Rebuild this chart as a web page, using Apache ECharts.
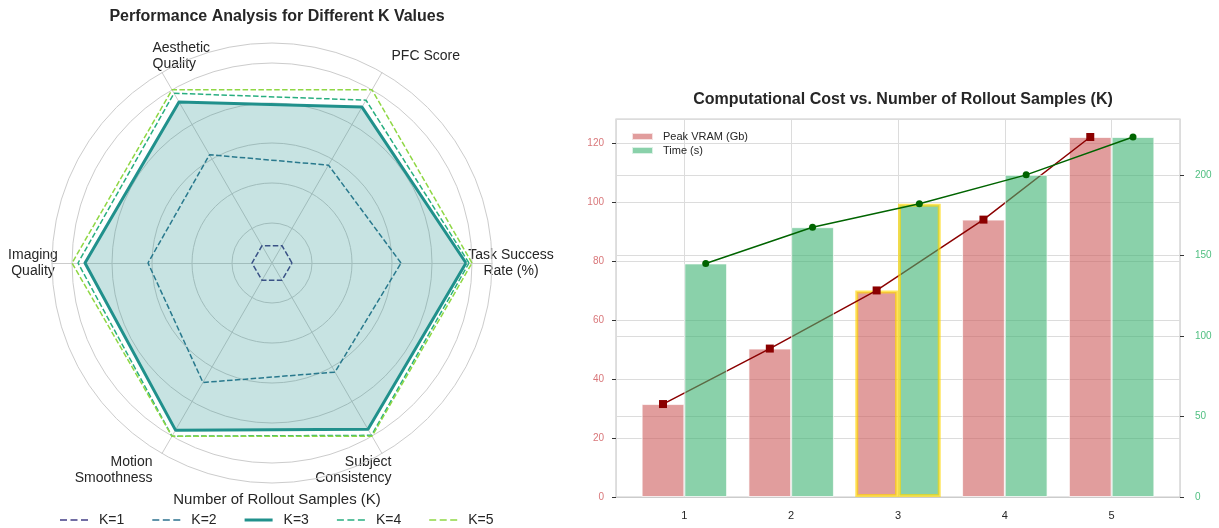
<!DOCTYPE html>
<html>
<head>
<meta charset="utf-8">
<script src="https://cdn.jsdelivr.net/npm/echarts@6/dist/echarts.min.js"></script>
<style>
html,body{margin:0;padding:0;background:#fff;}
#chart{width:1219px;height:528px;}
</style>
</head>
<body>
<div id="chart"></div>
<script>
// ---------- data ----------
const radarAxes = ['Task Success\nRate (%)', 'PFC Score', 'Aesthetic\nQuality', 'Imaging\nQuality', 'Motion\nSmoothness', 'Subject\nConsistency'];
const kNames = ['K=1', 'K=2', 'K=3', 'K=4', 'K=5'];
const radarK1 = [0.10, 0.10, 0.10, 0.10, 0.10, 0.10];
const radarK2 = [0.645, 0.565, 0.625, 0.62, 0.69, 0.63];
const radarK3 = [0.97, 0.90, 0.93, 0.935, 0.965, 0.96];
const radarK4 = [0.985, 0.94, 0.98, 0.97, 1.0, 0.995];
const radarK5 = [1.0, 1.0, 1.0, 1.0, 1.0, 1.0];

const kValues = [1, 2, 3, 4, 5];
const peakVram = [31.5, 50.3, 70.0, 94.0, 122.0];
const timeSec = [145, 167.5, 182, 200, 223.5];
const highlightK = 3;
const barNames = ['Peak VRAM (Gb)', 'Time (s)'];

// ---------- styling ----------
const FONT = '"Liberation Sans", Arial, Helvetica, sans-serif';
const TXT = '#262626';
const kColors = ['#433e85', '#2c728e', '#21918c', '#28ae80', '#8fd744'];
const radarCx = 272, radarCy = 263, radarR = 220, gridR = 200, labelR = 239;

const chart = echarts.init(document.getElementById('chart'), null, {renderer: 'canvas'});

const radarSeriesData = [radarK1, radarK2, radarK3, radarK4, radarK5];
const radarSeries = radarSeriesData.map((vals, i) => {
  const solid = i === 2;
  const s = {
    type: 'radar',
    radarIndex: 0,
    name: kNames[i],
    symbol: 'none',
    z: 3 + i,
    lineStyle: {color: kColors[i], width: solid ? 3 : 1.5, type: solid ? 'solid' : [5.5, 2.4]},
    itemStyle: {color: kColors[i]},
    data: [{value: vals, name: kNames[i]}]
  };
  if (solid) s.areaStyle = {color: kColors[i], opacity: 0.25};
  return s;
});

const dashIcon = 'path://M0,0M28,3M0,0.75h7v1.5h-7zM10.5,0.75h7v1.5h-7zM21,0.75h7v1.5h-7z';
const solidIcon = 'path://M0,0h28v3h-28z';

// axis labels around radar
const radarLabels = radarAxes.map((name, i) => {
  const a = i * Math.PI / 3;
  let align = 'center';
  if (i === 1 || i === 2) align = 'left';
  if (i === 4 || i === 5) align = 'right';
  return {
    type: 'text',
    x: radarCx + labelR * Math.cos(a),
    y: radarCy - labelR * Math.sin(a),
    style: {text: name, fontSize: 14, fontFamily: FONT, fill: TXT, align: align, verticalAlign: 'middle', lineHeight: 16}
  };
});

// right chart: x-range like matplotlib (bars width 0.4, 5% margins)
const barW = 0.4;
const xLo = kValues[0] - barW, xHi = kValues[kValues.length - 1] + barW;
const xPad = (xHi - xLo) * 0.05;

function barItem(k, v) {
  const it = {value: [k, v]};
  if (k === highlightK) it.itemStyle = {borderColor: 'rgba(255,215,0,0.65)', borderWidth: 3};
  return it;
}

const option = {
  animation: false,
  backgroundColor: '#ffffff',
  textStyle: {fontFamily: FONT, color: TXT},
  title: [
    {text: 'Performance Analysis for Different K Values', left: radarCx, top: 4, textAlign: 'center',
     textStyle: {fontSize: 16, fontWeight: 'bold', color: TXT, fontFamily: FONT}},
    {text: 'Computational Cost vs. Number of Rollout Samples (K)', left: 898, top: 87, textAlign: 'center',
     textStyle: {fontSize: 16, fontWeight: 'bold', color: TXT, fontFamily: FONT}},
    {text: 'Number of Rollout Samples (K)', left: radarCx, top: 487, textAlign: 'center',
     textStyle: {fontSize: 15, fontWeight: 'normal', color: TXT, fontFamily: FONT}}
  ],
  legend: [
    {
      data: kNames.map((n, i) => ({name: n, icon: i === 2 ? solidIcon : dashIcon, itemStyle: {color: kColors[i]}})),
      left: 55, top: 508, itemWidth: 28, itemHeight: 3, itemGap: 28,
      textStyle: {fontSize: 14, color: TXT, fontFamily: FONT, padding: [0, 0, 0, 6]},
      selectedMode: false
    },
    {
      data: barNames.map(n => ({name: n, icon: 'rect'})),
      orient: 'vertical', left: 626, top: 126, itemWidth: 21, itemHeight: 7, itemGap: 3,
      textStyle: {fontSize: 11, color: TXT, fontFamily: FONT, padding: [0, 0, 0, 5]},
      selectedMode: false
    }
  ],
  radar: [
    {
      center: [radarCx, radarCy], radius: radarR, startAngle: 0, shape: 'circle', splitNumber: 1,
      indicator: radarAxes.map(n => ({name: n, min: 0, max: 1.1})),
      axisName: {show: false},
      axisLine: {lineStyle: {color: '#cccccc', width: 1}},
      splitLine: {lineStyle: {color: '#cccccc', width: 1}},
      splitArea: {show: false}
    },
    {
      center: [radarCx, radarCy], radius: gridR, startAngle: 0, shape: 'circle', splitNumber: 5,
      indicator: radarAxes.map(n => ({name: n, min: 0, max: 1})),
      axisName: {show: false},
      axisLine: {show: false},
      splitLine: {lineStyle: {color: '#cccccc', width: 1}},
      splitArea: {show: false}
    }
  ],
  grid: [{left: 616, top: 119, width: 564, height: 378, show: true, borderColor: '#cccccc', borderWidth: 1.2, containLabel: false}],
  xAxis: [{
    type: 'value', gridIndex: 0, min: xLo - xPad, max: xHi + xPad, splitNumber: 5,
    axisLine: {show: true, lineStyle: {color: '#cccccc', width: 1.2}},
    axisTick: {show: false},
    axisLabel: {fontSize: 11, color: TXT, margin: 13, showMinLabel: false, showMaxLabel: false,
      formatter: v => (Number.isInteger(v) ? String(v) : '')},
    splitLine: {show: true, lineStyle: {color: '#dcdcdc', width: 1}}
  }],
  yAxis: [
    {
      type: 'value', gridIndex: 0, min: 0, max: v => v.max * 1.05, interval: 20, position: 'left',
      axisLine: {show: false},
      axisTick: {show: true, length: 4, lineStyle: {color: '#333333', width: 1}},
      axisLabel: {fontSize: 10, color: '#d9777a', margin: 12, showMaxLabel: false},
      splitLine: {show: true, lineStyle: {color: '#dcdcdc', width: 1}}
    },
    {
      type: 'value', gridIndex: 0, min: 0, max: v => v.max * 1.05, interval: 50, position: 'right',
      axisLine: {show: false},
      axisTick: {show: true, length: 4, lineStyle: {color: '#333333', width: 1}},
      axisLabel: {fontSize: 10, color: '#4fbf80', margin: 15, showMaxLabel: false},
      splitLine: {show: true, lineStyle: {color: '#dcdcdc', width: 1}}
    }
  ],
  graphic: radarLabels,
  series: radarSeries.concat([
    {
      type: 'bar', name: barNames[0], xAxisIndex: 0, yAxisIndex: 0, barWidth: '40%', barGap: '0%', z: 2,
      itemStyle: {color: 'rgba(205,92,92,0.6)', borderColor: 'rgba(255,255,255,0.7)', borderWidth: 1},
      data: kValues.map((k, i) => barItem(k, peakVram[i]))
    },
    {
      type: 'line', name: 'vram-line', xAxisIndex: 0, yAxisIndex: 0, z: 3,
      symbol: 'rect', symbolSize: 8, showSymbol: true,
      lineStyle: {color: '#8b0000', width: 1.5}, itemStyle: {color: '#8b0000'},
      data: kValues.map((k, i) => [k - barW / 2, peakVram[i]])
    },
    {
      type: 'bar', name: barNames[1], xAxisIndex: 0, yAxisIndex: 1, barWidth: '40%', barGap: '0%', z: 4,
      itemStyle: {color: 'rgba(60,179,113,0.6)', borderColor: 'rgba(255,255,255,0.7)', borderWidth: 1},
      data: kValues.map((k, i) => barItem(k, timeSec[i]))
    },
    {
      type: 'line', name: 'time-line', xAxisIndex: 0, yAxisIndex: 1, z: 5,
      symbol: 'circle', symbolSize: 7, showSymbol: true,
      lineStyle: {color: '#006400', width: 1.5}, itemStyle: {color: '#006400'},
      data: kValues.map((k, i) => [k + barW / 2, timeSec[i]])
    }
  ])
};

chart.setOption(option);
</script>
</body>
</html>
